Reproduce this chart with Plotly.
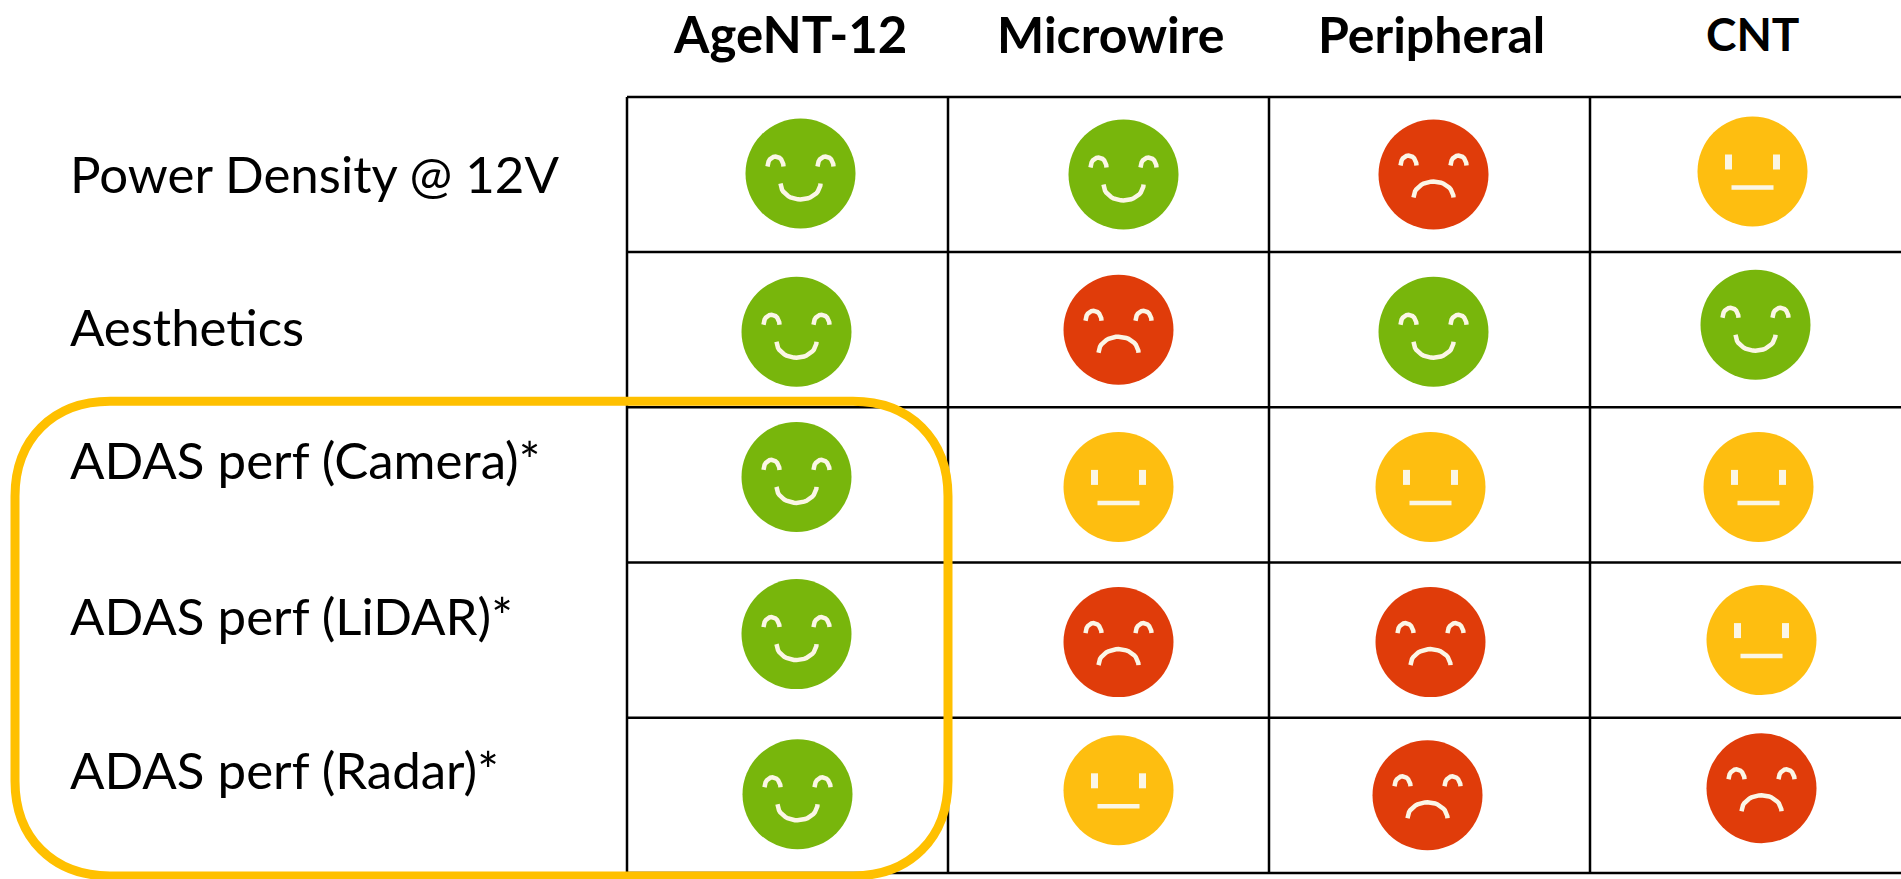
import math
import plotly.graph_objects as go

# ---------- data ----------
columns = ["AgeNT-12", "Microwire", "Peripheral", "CNT"]
rows = ["Power Density @ 12V", "Aesthetics", "ADAS perf (Camera)*", "ADAS perf (LiDAR)*", "ADAS perf (Radar)*"]
# 2 = good, 1 = neutral, 0 = bad
ratings = [
    [2, 2, 0, 1],
    [2, 0, 2, 2],
    [2, 1, 1, 1],
    [2, 0, 0, 1],
    [2, 1, 0, 0],
]
highlighted_rows = ["ADAS perf (Camera)*", "ADAS perf (LiDAR)*", "ADAS perf (Radar)*"]

# ---------- layout (pixels of the 1901x879 page) ----------
W, H = 1901, 879
CELL_W, CELL_H = 321.0, 155.2
X0, Y0 = 787.5, 174.5          # centre of first cell
FACE_DX = [[13, 15, 4, 2], [9, 10, 4, 5], [9, 10, 1, 8], [9, 10, 1, 11], [10, 10, -2, 11]]
FACE_DY = [[-1, 0, 0, -3], [2, 0, 2, -5], [-8, 2, 2, 2], [-6, 2, 2, 0], [-1, -5, 0, -7]]
LABEL_DY = [-1, -3, -25, -25, -26]
COLORS = {2: "#78B60C", 1: "#FEBE10", 0: "#E03C0A"}
INK = "#FBF6E6"


def dx(px):
    return px / CELL_W


def dy(px):
    return px / CELL_H


def arc(cx, cy, rx, ry, a0, a1, n=24):
    xs, ys = [], []
    for k in range(n + 1):
        t = math.radians(a0 + (a1 - a0) * k / n)
        xs.append(cx + dx(rx * math.cos(t)))
        ys.append(cy + dy(ry * math.sin(t)))
    return xs + [None], ys + [None]


fig = go.Figure()

# grid
gx, gy = [], []
for i in range(len(columns) + 1):
    gx += [i - 0.5, i - 0.5, None]
    gy += [-0.5, len(rows) - 0.5, None]
for j in range(len(rows) + 1):
    gx += [-0.5, len(columns) - 0.5, None]
    gy += [j - 0.5, j - 0.5, None]
fig.add_trace(go.Scatter(x=gx, y=gy, mode="lines", line=dict(color="#000000", width=2.5),
                         hoverinfo="skip", showlegend=False))

# faces
for rating in (2, 1, 0):
    fx, fy = [], []
    for j, row in enumerate(ratings):
        for i, v in enumerate(row):
            if v == rating:
                fx.append(i + dx(FACE_DX[j][i]))
                fy.append(j + dy(FACE_DY[j][i]))
    fig.add_trace(go.Scatter(x=fx, y=fy, mode="markers",
                             marker=dict(symbol="circle", size=110, color=COLORS[rating], line=dict(width=0)),
                             showlegend=False, hoverinfo="skip"))
    lx, ly = [], []
    ex, ey = [], []
    for cx, cy in zip(fx, fy):
        if rating == 1:
            for s in (-1, 1):
                ex += [cx + dx(s * 24), cx + dx(s * 24), None]
                ey += [cy + dy(-17), cy + dy(-2), None]
            lx += [cx + dx(-21), cx + dx(21), None]
            ly += [cy + dy(16), cy + dy(16), None]
        else:
            eye_y = -7 if rating == 2 else -9
            for s in (-1, 1):
                a, b = arc(cx + dx(s * 25), cy + dy(eye_y), 8, 10, 180, 360, 12)
                lx += a
                ly += b
            if rating == 2:
                a, b = arc(cx, cy + dy(10), 20, 16, 180, 0)
            else:
                a, b = arc(cx, cy + dy(23), 20, 16, 180, 360)
            lx += a
            ly += b
    fig.add_trace(go.Scatter(x=lx, y=ly, mode="lines", line=dict(color=INK, width=4.5),
                             showlegend=False, hoverinfo="skip"))
    if ex:
        fig.add_trace(go.Scatter(x=ex, y=ey, mode="lines", line=dict(color=INK, width=7),
                                 showlegend=False, hoverinfo="skip"))

# column headers
HEAD_SIZE = [51, 50, 50, 46]
for i, c in enumerate(columns):
    fig.add_annotation(x=i + dx(2), y=-0.5 + dy(-63), text=f"<b>{c}</b>", showarrow=False,
                       xanchor="center", yanchor="middle",
                       font=dict(family="Lato", size=HEAD_SIZE[i], color="#000000"))

# row labels
for j, r in enumerate(rows):
    fig.add_annotation(x=-0.5 + dx(68 - 627), y=j + dy(LABEL_DY[j]), text=r, showarrow=False,
                       xanchor="left", yanchor="middle",
                       font=dict(family="Lato", size=51, color="#000000"))

# highlight box around the ADAS rows
first = rows.index(highlighted_rows[0])
last = rows.index(highlighted_rows[-1])
L = -0.5 + dx(15 - 627)
R = 0.5
T = first - 0.5 + dy(-6)
B = last + 0.5 + dy(3)
RX, RY = dx(95), dy(95)
path = (f"M {L+RX},{T} L {R-RX},{T} C {R-RX*0.4},{T} {R},{T+RY*0.4} {R},{T+RY} "
        f"L {R},{B-RY} C {R},{B-RY*0.4} {R-RX*0.4},{B} {R-RX},{B} "
        f"L {L+RX},{B} C {L+RX*0.4},{B} {L},{B-RY*0.4} {L},{B-RY} "
        f"L {L},{T+RY} C {L},{T+RY*0.4} {L+RX*0.4},{T} {L+RX},{T} Z")
fig.add_shape(type="path", path=path, xref="x", yref="y", line=dict(color="#FFC000", width=9),
              fillcolor="rgba(0,0,0,0)", layer="above")

fig.update_layout(
    width=W, height=H, margin=dict(l=0, r=0, t=0, b=0, pad=0),
    paper_bgcolor="#FFFFFF", plot_bgcolor="#FFFFFF", showlegend=False,
    xaxis=dict(range=[-X0 / CELL_W, (W - X0) / CELL_W], visible=False, fixedrange=True),
    yaxis=dict(range=[(H - Y0) / CELL_H, -Y0 / CELL_H], visible=False, fixedrange=True),
)

fig.write_html("out.html", config={"displayModeBar": False},
               post_script="document.body.style.margin='0';document.body.style.overflow='hidden';")
